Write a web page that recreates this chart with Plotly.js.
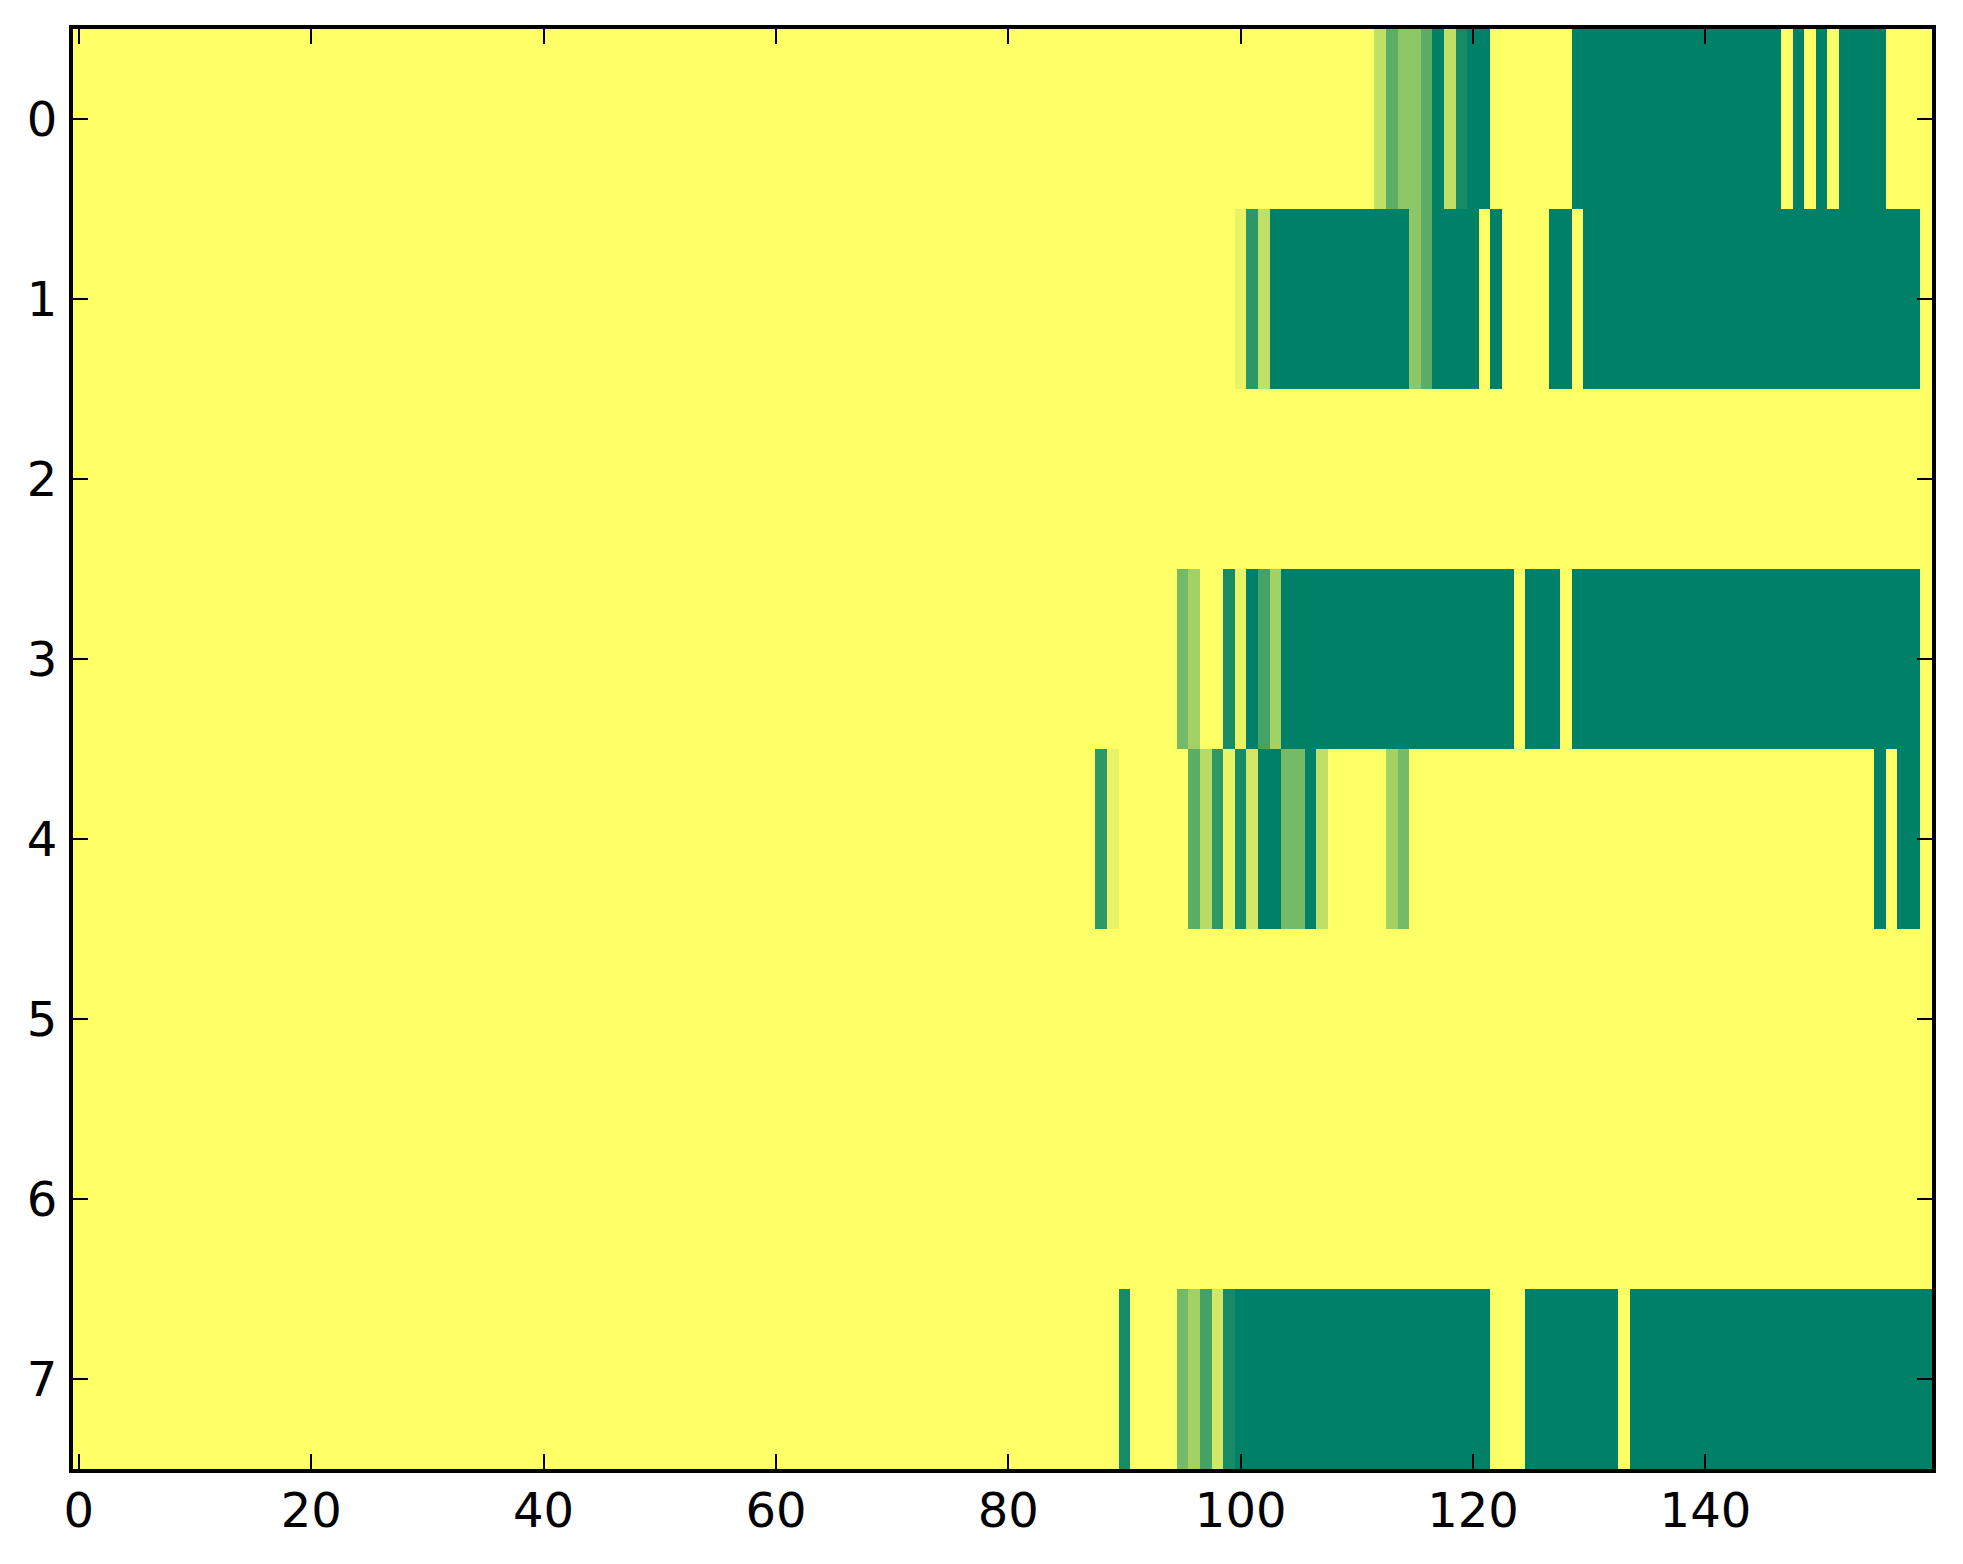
<!DOCTYPE html>
<html>
<head>
<meta charset="utf-8">
<script src="https://cdn.plot.ly/plotly-3.0.1.min.js"></script>
<style>html,body{margin:0;padding:0;background:#fff;}#chart{width:1963px;height:1564px;}</style>
</head>
<body>
<div id="chart"></div>
<script>
// Row labels and x ticks
const rowLabels = [0, 1, 2, 3, 4, 5, 6, 7];
const xTicks = [0, 20, 40, 60, 80, 100, 120, 140];
const nCols = 160;

// Each row: number of leading yellow (0) cells, then the values
const row0Lead = 112;
const row0Vals = [0.25,0.64,0.45,0.45,0.64,1,0.25,0.91,1,1,
  0,0,0,0,0,0,0,
  1,1,1,1,1,1,1,1,1,1,1,1,1,1,1,1,1,1,
  0,1,0,1,0,
  1,1,1,1,
  0,0,0,0];
const row1Lead = 100;
const row1Vals = [0.09,0.82,0.25,
  1,1,1,1,1,1,1,1,1,1,1,1,
  0.45,0.64,
  1,1,1,1,
  0,1,0,0,0,0,1,1,0,
  1,1,1,1,1,1,1,1,1,1,1,1,1,1,1,1,1,1,1,1,1,1,1,1,1,1,1,1,1,
  0];
const row2Lead = 160;
const row2Vals = [];
const row3Lead = 95;
const row3Vals = [0.54,0.36,0,0,0.91,0.09,1,0.73,0.36,
  1,1,1,1,1,1,1,1,1,1,1,1,1,1,1,1,1,1,1,1,
  0,1,1,1,0,
  1,1,1,1,1,1,1,1,1,1,1,1,1,1,1,1,1,1,1,1,1,1,1,1,1,1,1,1,1,1,
  0];
const row4Lead = 88;
const row4Vals = [0.82,0.09,
  0,0,0,0,0,0,
  0.64,0.28,0.82,0.09,0.91,0.18,1,1,0.54,0.54,1,0.25,
  0,0,0,0,0,
  0.36,0.54,
  0,0,0,0,0,0,0,0,0,0,0,0,0,0,0,0,0,0,0,0,0,0,0,0,0,0,0,0,0,0,0,0,0,0,0,0,0,0,0,0,
  1,0,1,1,0];
const row5Lead = 160;
const row5Vals = [];
const row6Lead = 160;
const row6Vals = [];
const row7Lead = 90;
const row7Vals = [0.91,0,0,0,0,
  0.54,0.36,0.73,0.18,0.91,
  1,1,1,1,1,1,1,1,1,1,1,1,1,1,1,1,1,1,1,1,1,1,
  0,0,0,
  1,1,1,1,1,1,1,1,
  0,
  1,1,1,1,1,1,1,1,1,1,1,1,1,1,1,1,1,1,1,1,1,1,1,1,1,1];

const leads = [row0Lead,row1Lead,row2Lead,row3Lead,row4Lead,row5Lead,row6Lead,row7Lead];
const vals = [row0Vals,row1Vals,row2Vals,row3Vals,row4Vals,row5Vals,row6Vals,row7Vals];

const z = leads.map((lead, i) => {
  const r = new Array(lead).fill(0).concat(vals[i]);
  while (r.length < nCols) r.push(0);
  return r.slice(0, nCols);
});

const font = {family: 'DejaVu Sans, sans-serif', size: 48, color: '#000'};

const trace = {
  type: 'heatmap',
  z: z,
  y: rowLabels,
  colorscale: [[0, 'rgb(255,255,102)'], [1, 'rgb(0,128,102)']],
  zmin: 0, zmax: 1,
  showscale: false,
  zsmooth: false,
  hoverinfo: 'skip'
};

const axisCommon = {
  showgrid: false, zeroline: false,
  showline: true, linecolor: '#000', linewidth: 4,
  mirror: 'ticks', ticks: 'inside', ticklen: 15, tickwidth: 2, tickcolor: '#000',
  tickfont: font
};

const layout = {
  width: 1963, height: 1564,
  margin: {l: 73, r: 31, t: 29, b: 95},
  paper_bgcolor: '#fff', plot_bgcolor: '#fff',
  showlegend: false,
  xaxis: Object.assign({}, axisCommon, {
    range: [-0.5, 159.5], tickmode: 'array', tickvals: xTicks, ticktext: xTicks.map(String),
    ticklabelstandoff: -4
  }),
  yaxis: Object.assign({}, axisCommon, {
    range: [7.5, -0.5], tickmode: 'array', tickvals: rowLabels, ticktext: rowLabels.map(String),
    ticklabelstandoff: 2
  })
};

Plotly.newPlot('chart', [trace], layout, {displayModeBar: false, staticPlot: true});
</script>
</body>
</html>
